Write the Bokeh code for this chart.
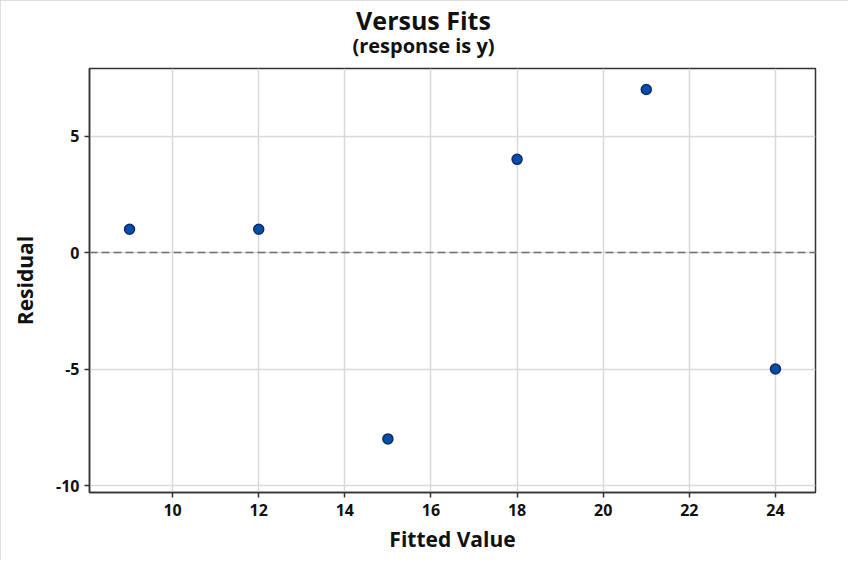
from bokeh.plotting import figure
from bokeh.models import Label, Span, FixedTicker, Range1d
from bokeh.embed import file_html
from bokeh.resources import INLINE

fitted = [9, 12, 15, 18, 21, 24]
residual = [1, 1, -8, 4, 7, -5]
x_ticks = [10, 12, 14, 16, 18, 20, 22, 24]
y_ticks = [-10, -5, 0, 5]
title_text = "Versus Fits"
subtitle_text = "(response is y)"

FONT = "Open Sans"

p = figure(width=848, height=560, output_backend="svg", toolbar_location=None,
           x_range=Range1d(8.07, 24.93), y_range=Range1d(-10.3, 7.9),
           min_border_left=89, min_border_right=33, min_border_top=68, min_border_bottom=68,
           title=None)
p.styles = {"outline": "2px solid #d4d4d4", "outline-offset": "-2px"}

p.add_layout(Label(text=subtitle_text, x=334, y=23.5, x_units="screen", y_units="screen",
                   text_align="center", text_baseline="middle", text_font=FONT,
                   text_font_size="20px", text_font_style="bold", text_color="#111111"), "above")
p.add_layout(Label(text=title_text, x=334, y=22, x_units="screen", y_units="screen",
                   text_align="center", text_baseline="middle", text_font=FONT,
                   text_font_size="25px", text_font_style="bold", text_color="#111111"), "above")

p.outline_line_color = "#333333"
p.outline_line_width = 1.5
p.background_fill_color = "white"
p.border_fill_color = "white"

for ax in (p.xaxis[0], p.yaxis[0]):
    ax.axis_line_color = "#333333"
    ax.axis_line_width = 1.5
    ax.major_tick_line_color = "#333333"
    ax.major_tick_line_width = 1.5
    ax.major_tick_in = 0
    ax.major_tick_out = 5
    ax.minor_tick_line_color = None
    ax.major_label_text_font = FONT
    ax.major_label_text_font_size = "16px"
    ax.major_label_text_font_style = "bold"
    ax.major_label_text_color = "#111111"
    ax.axis_label_text_font = FONT
    ax.axis_label_text_font_size = "21px"
    ax.axis_label_text_font_style = "bold"
    ax.axis_label_text_color = "#111111"

p.xaxis.ticker = FixedTicker(ticks=x_ticks)
p.yaxis.ticker = FixedTicker(ticks=y_ticks)
p.yaxis.major_label_overrides = {t: str(t) for t in y_ticks}
p.xaxis.major_label_overrides = {t: str(t) for t in x_ticks}
p.xaxis.axis_label = "Fitted Value"
p.yaxis.axis_label = "Residual"
p.xaxis.major_label_standoff = 6
p.yaxis.major_label_standoff = 5
p.xaxis.axis_label_standoff = 6
p.yaxis.axis_label_standoff = 14

p.xgrid.ticker = FixedTicker(ticks=x_ticks)
p.ygrid.ticker = FixedTicker(ticks=y_ticks)
p.grid.grid_line_color = "#d9d9d9"
p.grid.grid_line_width = 1.5

p.add_layout(Span(location=0, dimension="width", line_color="#707070",
                  line_width=1.5, line_dash="8 4"))

p.scatter(fitted, residual, size=10, fill_color="#0050a8", line_color="#14286e", line_width=1.5)

open("out.html", "w").write(file_html(p, INLINE))
